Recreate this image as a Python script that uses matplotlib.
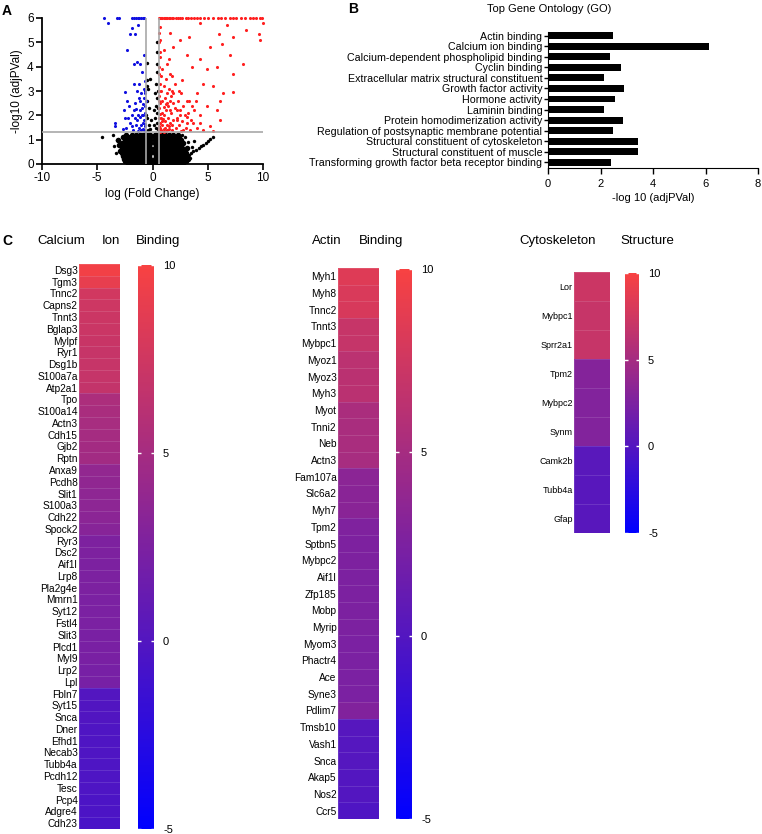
import numpy as np
import matplotlib
matplotlib.use('Agg')
import matplotlib.pyplot as plt
from matplotlib.colors import LinearSegmentedColormap, Normalize
from matplotlib.cm import ScalarMappable

plt.rcParams['font.family'] = ['Liberation Sans', 'DejaVu Sans']
plt.rcParams['axes.unicode_minus'] = False

# ---- panel A: volcano plot ----
black_rows_y = [0.03, 0.12, 0.22, 0.33, 0.44, 0.55, 0.66, 0.77, 0.88, 0.99, 1.1, 1.21]
black_rows_x = [
    [-2.2, -1.9, -1.6, -1.35, -1.1, -0.85, -0.6, -0.4, -0.25, 0.25, 0.4, 0.6, 0.85, 1.1, 1.35, 1.6, 1.9, 2.2, 2.5, 2.8],
    [-2.5, -2.15, -1.85, -1.55, -1.3, -1.05, -0.8, -0.55, -0.35, -0.25, 0.25, 0.35, 0.55, 0.8, 1.05, 1.3, 1.55, 1.85, 2.15, 2.45, 2.75, 3.05],
    [-2.6, -2.3, -2.0, -1.7, -1.45, -1.2, -0.95, -0.7, -0.5, -0.27, 0.27, 0.5, 0.7, 0.95, 1.2, 1.45, 1.7, 2.0, 2.3, 2.6, 2.9, 3.2],
    [-2.7, -2.4, -2.1, -1.8, -1.55, -1.3, -1.05, -0.8, -0.55, -0.28, 0.28, 0.55, 0.8, 1.05, 1.3, 1.55, 1.8, 2.1, 2.4, 2.7, 3.0],
    [-2.8, -2.45, -2.15, -1.85, -1.6, -1.35, -1.1, -0.85, -0.6, -0.35, -0.25, 0.25, 0.35, 0.6, 0.85, 1.1, 1.35, 1.6, 1.85, 2.15, 2.45, 2.75, 3.05],
    [-2.9, -2.55, -2.2, -1.9, -1.6, -1.35, -1.1, -0.85, -0.6, -0.35, -0.25, 0.25, 0.35, 0.6, 0.85, 1.1, 1.35, 1.6, 1.9, 2.2, 2.5, 2.85],
    [-2.75, -2.4, -2.05, -1.75, -1.45, -1.2, -0.95, -0.7, -0.45, -0.26, 0.26, 0.45, 0.7, 0.95, 1.2, 1.45, 1.75, 2.05, 2.4, 2.7, 3.1],
    [-3.0, -2.6, -2.25, -1.9, -1.6, -1.3, -1.05, -0.8, -0.55, -0.3, 0.3, 0.55, 0.8, 1.05, 1.3, 1.6, 1.9, 2.25, 2.6],
    [-2.8, -2.4, -2.0, -1.7, -1.4, -1.15, -0.9, -0.65, -0.4, -0.25, 0.25, 0.4, 0.65, 0.9, 1.15, 1.4, 1.7, 2.0, 2.35, 2.8],
    [-3.1, -2.5, -2.1, -1.75, -1.45, -1.15, -0.9, -0.65, -0.4, -0.25, 0.25, 0.4, 0.65, 0.9, 1.2, 1.5, 1.85, 2.2, 2.6],
    [-2.7, -2.2, -1.8, -1.45, -1.15, -0.9, -0.65, -0.4, -0.25, 0.25, 0.4, 0.65, 0.9, 1.2, 1.55, 1.95, 2.4],
    [-2.4, -1.9, -1.5, -1.15, -0.85, -0.6, -0.35, -0.25, 0.25, 0.35, 0.6, 0.85, 1.15, 1.5, 1.9, 2.3],
]
black_extra = [(3.3, 0.38), (3.5, 0.45), (3.7, 0.52), (3.9, 0.58), (4.2, 0.65), (4.4, 0.72), (4.6, 0.79),
               (4.8, 0.88), (5.0, 0.95), (5.2, 1.03), (5.5, 1.12), (3.4, 0.25), (3.6, 0.7), (3.2, 0.9),
               (2.9, 1.1), (2.7, 1.2), (3.8, 0.95), (-4.57, 1.13), (-3.5, 0.72), (-3.3, 0.45), (-3.2, 1.0),
               (-3.6, 1.2), (-0.45, 1.4), (-0.3, 1.6), (0.3, 1.5), (0.45, 1.7), (-0.5, 1.9), (0.2, 1.9),
               (0.4, 2.1), (-0.35, 2.3), (0.3, 2.4), (0.45, 2.7), (-0.5, 2.6), (0.25, 2.9), (-0.4, 3.1),
               (0.35, 3.3), (-0.2, 3.5), (0.5, 3.0), (-0.55, 2.0), (0.5, 1.45), (-0.2, 1.45), (0.15, 1.6),
               (0.5, 2.3), (0.1, 2.2), (-0.1, 1.8), (0.42, 5.0), (0.4, 4.6), (0.38, 4.1), (0.45, 3.8),
               (-0.5, 4.15), (-0.48, 3.45), (-0.52, 3.2)]

red_points = [(0.6, 1.35), (0.7, 1.5), (0.65, 1.7), (0.8, 1.4), (0.9, 1.6), (0.75, 1.9), (1.0, 1.45), (1.1, 1.75),
              (0.85, 2.1), (0.6, 2.3), (1.2, 1.35), (1.3, 1.6), (1.0, 2.0), (0.7, 2.5), (1.4, 1.9), (1.5, 1.45),
              (1.2, 2.2), (0.9, 2.6), (0.6, 2.8), (1.6, 1.7), (1.7, 2.1), (1.4, 2.4), (1.1, 2.7), (0.8, 3.0),
              (1.8, 1.4), (1.9, 1.8), (2.0, 2.3), (1.6, 2.6), (1.3, 2.9), (2.1, 1.5), (2.2, 1.9), (0.65, 3.3),
              (1.0, 3.2), (2.3, 2.6), (2.4, 1.6), (2.5, 2.0), (1.5, 3.1), (0.75, 3.6), (2.6, 1.35), (2.7, 1.75),
              (2.8, 2.4), (1.2, 3.5), (0.6, 4.0), (1.8, 3.0), (3.0, 1.5), (3.2, 2.1), (0.9, 3.9), (2.0, 3.3),
              (1.6, 3.7), (3.4, 1.4), (3.5, 1.8), (3.6, 2.4), (2.4, 3.0), (0.7, 4.4), (1.3, 4.1), (0.62, 1.55),
              (0.68, 2.05), (0.72, 1.32), (0.95, 1.85), (1.05, 1.32), (1.25, 2.45), (1.45, 1.55), (1.55, 2.2),
              (1.75, 1.6), (1.85, 2.5), (0.58, 1.45), (0.6, 1.9), (0.62, 2.6), (0.58, 3.0), (0.63, 3.7),
              (0.66, 4.6), (0.6, 5.0), (0.62, 5.4), (0.85, 1.35), (0.9, 1.75), (1.15, 1.5), (1.35, 1.4),
              (1.0, 2.35), (1.7, 2.8), (2.2, 2.2), (2.9, 2.0), (3.1, 1.7), (3.3, 2.6), (2.6, 2.9), (3.8, 2.2),
              (4.0, 1.5), (3.9, 2.6),
              (0.7, 5.63), (1.6, 5.4), (2.5, 5.1), (3.3, 5.2), (4.3, 5.8), (6.0, 5.36), (6.7, 5.7), (7.3, 5.2),
              (8.5, 5.5), (9.6, 5.36), (9.7, 5.1), (10.0, 5.8), (8.2, 4.1), (7.0, 4.5), (5.8, 4.0), (4.9, 3.9),
              (4.3, 4.3), (3.6, 4.0), (2.7, 3.45), (1.8, 3.6), (1.5, 4.3), (1.0, 4.7), (0.7, 5.1), (1.9, 4.8),
              (3.1, 4.5), (5.2, 4.8), (6.3, 4.95), (7.3, 3.7), (7.3, 2.97), (6.4, 2.9), (6.1, 2.6), (5.5, 3.2),
              (4.6, 3.3), (4.0, 2.9), (3.1, 2.6), (4.9, 2.4), (5.8, 2.2), (4.3, 2.0), (3.7, 1.7), (3.1, 1.95),
              (2.5, 2.2), (5.2, 1.55), (6.1, 1.8), (4.6, 1.4), (4.3, 1.7), (2.8, 1.4), (1.9, 2.9), (1.3, 2.5),
              (2.2, 1.8), (5.5, 1.34)]
red_top_x = [0.6, 0.7, 0.8, 0.9, 1.0, 1.1, 1.2, 1.3, 1.45, 1.6, 1.75, 1.9, 2.1, 2.3, 2.5, 2.7, 3.0, 3.2, 3.5,
             3.8, 4.0, 4.3, 4.7, 5.0, 5.5, 5.9, 6.2, 6.6, 7.0, 7.3, 7.6, 8.0, 8.4, 8.8, 9.1, 9.4, 9.7, 9.95]

blue_points = [(-4.0, 5.8), (-1.85, 5.57), (-1.55, 5.36), (-2.0, 5.36), (-1.3, 5.7), (-2.3, 4.7), (-1.7, 4.1),
               (-1.4, 4.2), (-1.1, 4.1), (-0.95, 3.8), (-0.8, 4.5), (-1.7, 3.3), (-1.4, 3.0), (-2.45, 2.97),
               (-2.3, 2.6), (-2.6, 2.2), (-3.4, 1.7), (-3.4, 1.55), (-2.2, 1.9), (-1.7, 2.2), (-1.1, 2.6),
               (-1.25, 3.3), (-1.85, 1.55), (-1.4, 1.8), (-0.95, 2.0), (-0.7, 3.4), (-0.65, 2.9), (-0.8, 3.1),
               (-0.65, 1.35), (-0.7, 1.55), (-0.75, 1.8), (-0.68, 2.1), (-0.72, 2.4), (-0.85, 1.45), (-0.9, 1.7),
               (-0.95, 2.3), (-1.0, 1.4), (-1.05, 1.6), (-1.1, 1.95), (-1.15, 2.2), (-1.2, 1.5), (-1.3, 1.35),
               (-1.35, 2.0), (-1.5, 1.6), (-1.6, 1.9), (-1.55, 2.5), (-1.8, 1.4), (-1.9, 2.0), (-2.0, 1.7),
               (-2.1, 2.4), (-2.4, 1.5), (-2.5, 1.9), (-0.62, 2.6), (-0.66, 1.65), (-0.78, 1.4), (-0.88, 2.0),
               (-1.25, 2.7), (-1.0, 2.9), (-0.9, 2.45), (-1.45, 2.25), (-2.7, 1.45), (-0.7, 3.0), (-0.8, 2.7)]
blue_top_x = [-4.4, -3.2, -3.0, -1.9, -1.7, -1.5, -1.35, -1.2, -1.05, -0.9, -0.75]

fc_cut = [-0.6, 0.58]
p_cut = 1.3

# ---- panel B: GO terms ----
go_terms = ['Actin binding', 'Calcium ion binding', 'Calcium-dependent phospholipid binding',
            'Cyclin binding', 'Extracellular matrix structural constituent', 'Growth factor activity',
            'Hormone activity', 'Laminin binding', 'Protein homodimerization activity',
            'Regulation of postsynaptic membrane potential', 'Structural constituent of cytoskeleton',
            'Structural constituent of muscle', 'Transforming growth factor beta receptor binding']
go_values = [2.48, 6.12, 2.35, 2.79, 2.12, 2.9, 2.54, 2.12, 2.86, 2.48, 3.43, 3.43, 2.39]

# ---- panel C: heatmaps ----
ca_genes = ['Dsg3', 'Tgm3', 'Tnnc2', 'Capns2', 'Tnnt3', 'Bglap3', 'Mylpf', 'Ryr1', 'Dsg1b', 'S100a7a',
            'Atp2a1', 'Tpo', 'S100a14', 'Actn3', 'Cdh15', 'Gjb2', 'Rptn', 'Anxa9', 'Pcdh8', 'Slit1',
            'S100a3', 'Cdh22', 'Spock2', 'Ryr3', 'Dsc2', 'Aif1l', 'Lrp8', 'Pla2g4e', 'Mmrn1', 'Syt12',
            'Fstl4', 'Slit3', 'Plcd1', 'Myl9', 'Lrp2', 'Lpl', 'Fbln7', 'Syt15', 'Snca', 'Dner', 'Efhd1',
            'Necab3', 'Tubb4a', 'Pcdh12', 'Tesc', 'Pcp4', 'Adgre4', 'Cdh23']
ca_values = [9.6, 9.0, 7.6, 7.4, 7.3, 7.2, 7.1, 7.0, 7.0, 6.9, 6.8, 5.4, 5.2, 5.1, 5.0, 4.9, 4.8, 3.8,
             3.7, 3.6, 3.5, 3.4, 3.2, 2.6, 2.6, 2.5, 2.5, 2.5, 2.4, 2.4, 2.4, 2.3, 2.3, 2.3, 2.2, 2.2,
             0.0, -0.1, -0.1, -0.2, -0.2, -0.2, -0.3, -0.3, -0.3, -0.4, -0.4, -0.6]

actin_genes = ['Myh1', 'Myh8', 'Tnnc2', 'Tnnt3', 'Mybpc1', 'Myoz1', 'Myoz3', 'Myh3', 'Myot', 'Tnni2',
               'Neb', 'Actn3', 'Fam107a', 'Slc6a2', 'Myh7', 'Tpm2', 'Sptbn5', 'Mybpc2', 'Aif1l', 'Zfp185',
               'Mobp', 'Myrip', 'Myom3', 'Phactr4', 'Ace', 'Syne3', 'Pdlim7', 'Tmsb10', 'Vash1', 'Snca',
               'Akap5', 'Nos2', 'Ccr5']
actin_values = [8.4, 8.1, 8.0, 7.0, 6.9, 6.3, 6.2, 6.2, 5.3, 5.2, 5.2, 5.1, 3.4, 3.3, 3.3, 2.7, 2.6,
                2.6, 2.5, 2.5, 2.5, 2.5, 2.4, 2.4, 2.4, 2.4, 2.8, 0.2, 0.1, 0.1, 0.0, 0.0, -0.2]

cyto_genes = ['Lor', 'Mybpc1', 'Sprr2a1', 'Tpm2', 'Mybpc2', 'Synm', 'Camk2b', 'Tubb4a', 'Gfap']
cyto_values = [7.3, 7.0, 7.0, 3.0, 2.9, 2.9, 0.4, 0.3, 0.3]

cmap = LinearSegmentedColormap.from_list('br', ['#0000ff', '#f84242'])
norm = Normalize(vmin=-5, vmax=10)

W, H = 762, 834
fig = plt.figure(figsize=(W / 100, H / 100), dpi=100)


def box(x0, y0, x1, y1):
    # pixel box -> figure fraction
    return [x0 / W, 1 - y1 / H, (x1 - x0) / W, (y1 - y0) / H]


# ---------- A ----------
ax = fig.add_axes(box(42, 18, 263, 164))
bx, by = [], []
for y, xs in zip(black_rows_y, black_rows_x):
    bx += xs
    by += [y] * len(xs)
ax.scatter(bx, by, s=16, c='black', linewidths=0, zorder=2)
ax.scatter([p[0] for p in black_extra], [p[1] for p in black_extra], s=6, c='black', linewidths=0, zorder=2)
ax.scatter([p[0] for p in red_points] + red_top_x,
           [p[1] for p in red_points] + [6] * len(red_top_x),
           s=5, c='#ff2020', linewidths=0, zorder=2, clip_on=False)
ax.scatter([p[0] for p in blue_points] + blue_top_x,
           [p[1] for p in blue_points] + [6] * len(blue_top_x),
           s=5, c='#1010e0', linewidths=0, zorder=2, clip_on=False)
for xc in fc_cut:
    ax.plot([xc, xc], [0, 6], color='#a8a8a8', lw=1.2, zorder=3)
ax.axhline(p_cut, color='#a8a8a8', lw=1.2, zorder=3)
ax.set_xlim(-10, 10)
ax.set_ylim(0, 6)
ax.set_xticks([-10, -5, 0, 5, 10])
ax.set_yticks(range(7))
ax.spines[['top', 'right']].set_visible(False)
for s in ['left', 'bottom']:
    ax.spines[s].set_linewidth(1.3)
ax.tick_params(labelsize=8.5, width=1.2, length=4, pad=2)
ax.set_xlabel('log (Fold Change)', fontsize=8.5, labelpad=3)
ax.set_ylabel('-log10 (adjPVal)', fontsize=8.5, labelpad=3)
fig.text(2 / W, 1 - 11 / H, 'A', fontsize=10, fontweight='bold', va='center')

# ---------- B ----------
axb = fig.add_axes(box(548, 31.7, 758, 168.3))
pos = np.arange(len(go_terms))
axb.barh(pos, go_values, height=0.65, color='black')
axb.set_yticks(pos)
axb.set_yticklabels(go_terms, fontsize=7.7)
axb.set_ylim(12.57, -0.38)
axb.set_xlim(0, 8)
axb.set_xticks([0, 2, 4, 6, 8])
axb.spines[['top', 'right']].set_visible(False)
axb.tick_params(axis='x', labelsize=8, length=4, width=1)
axb.tick_params(axis='y', length=3, width=1, pad=1)
axb.set_xlabel('-log 10 (adjPVal)', fontsize=8, labelpad=3)
fig.text(549 / W, 1 - 9 / H, 'Top Gene Ontology (GO)', fontsize=8, ha='center', va='center')
fig.text(348 / W, 1 - 9 / H, 'B', fontsize=10, fontweight='bold', va='center')

# ---------- C ----------
fig.text(2 / W, 1 - 241 / H, 'C', fontsize=10, fontweight='bold', va='center')


def heat(hbox, cbox, genes, values, fs):
    axh = fig.add_axes(box(*hbox))
    axh.pcolormesh(np.array(values).reshape(-1, 1), cmap=cmap, norm=norm,
                   edgecolors=(1, 1, 1, 0.12), linewidth=0.5)
    axh.set_ylim(len(genes), 0)
    axh.set_xticks([])
    axh.set_yticks(np.arange(len(genes)) + 0.5)
    axh.set_yticklabels(genes, fontsize=fs)
    axh.tick_params(axis='y', length=0, pad=1)
    for s in axh.spines.values():
        s.set_visible(False)
    cax = fig.add_axes(box(*cbox))
    cb = fig.colorbar(ScalarMappable(norm=norm, cmap=cmap), cax=cax)
    cb.outline.set_visible(False)
    cb.set_ticks([10, 5, 0, -5])
    cax.tick_params(labelsize=8, direction='inout', color='white', length=5, width=1, pad=4,
                    left=True, right=True)
    # white tick marks only show inside the bar (5 and 0)
    for t in cax.yaxis.get_major_ticks():
        if t.get_loc() in (10, -5):
            t.tick1line.set_visible(False)
            t.tick2line.set_visible(False)


heat((79, 264, 120, 829), (138, 265, 154, 829), ca_genes, ca_values, 7.3)
heat((338, 268, 379, 819), (396, 269, 412, 819), actin_genes, actin_values, 7.3)
heat((574, 272, 610, 533), (625, 273, 639, 533), cyto_genes, cyto_values, 6.5)

for word, x in [('Calcium', 37), ('Ion', 102), ('Binding', 136),
                ('Actin', 312), ('Binding', 359),
                ('Cytoskeleton', 519), ('Structure', 620)]:
    fig.text(x / W, 1 - 241 / H, word, fontsize=9.5, va='center')

fig.savefig('out.png', dpi=100)
